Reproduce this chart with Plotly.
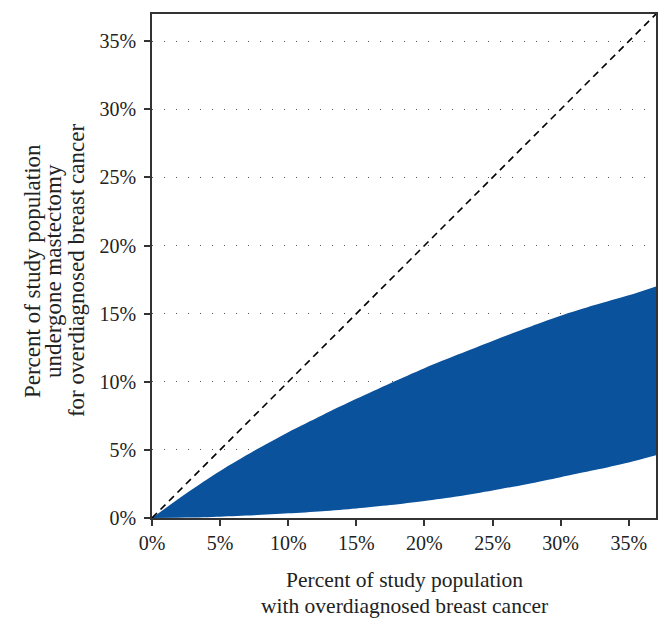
import plotly.graph_objects as go

# Data (percent values)
x_pct = [0, 2.5, 5, 7.5, 10, 12.5, 15, 17.5, 20, 22.5, 25, 27.5, 30, 32.5, 35, 37]
upper_pct = [0, 1.8, 3.45, 4.93, 6.3, 7.55, 8.75, 9.9, 11.0, 12.02, 13.0, 13.95, 14.85, 15.63, 16.35, 17.0]
lower_pct = [0, 0.03, 0.1, 0.2, 0.34, 0.5, 0.7, 0.95, 1.25, 1.6, 2.02, 2.48, 3.0, 3.52, 4.08, 4.6]
diag_x = [0, 37]
diag_y = [0, 37]
tick_vals = [0, 5, 10, 15, 20, 25, 30, 35]
tick_text = ["0%", "5%", "10%", "15%", "20%", "25%", "30%", "35%"]

FILL = "#0b529c"
FONT = "Liberation Serif"
TXT = "#222222"

fig = go.Figure()
fig.add_trace(go.Scatter(x=x_pct, y=lower_pct, mode="lines", line=dict(width=0, color=FILL),
                         line_shape="spline", line_smoothing=0.8, showlegend=False, hoverinfo="skip"))
fig.add_trace(go.Scatter(x=x_pct, y=upper_pct, mode="lines", line=dict(width=0, color=FILL),
                         line_shape="spline", line_smoothing=0.8,
                         fill="tonexty", fillcolor=FILL, showlegend=False))
fig.add_trace(go.Scatter(x=diag_x, y=diag_y, mode="lines",
                         line=dict(color="black", width=1.6, dash="7px,5px"), showlegend=False))

axis_common = dict(
    range=[0, 37], tickvals=tick_vals, ticktext=tick_text,
    showline=True, linecolor="#333333", linewidth=1.5, mirror=True,
    ticks="outside", ticklen=6, tickwidth=1.5, tickcolor="#333333",
    tickfont=dict(family=FONT, size=20, color=TXT),
    zeroline=False, automargin=False,
)
fig.update_xaxes(**axis_common, showgrid=False)
fig.update_yaxes(**axis_common, showgrid=True, gridcolor="#555555", gridwidth=1.2,
                 griddash="1px,11px", ticklabelstandoff=4)

annotations = [
    dict(text="Percent of study population", x=0.5, y=-0.123, xref="paper", yref="paper",
         showarrow=False, font=dict(family=FONT, size=21.5, color=TXT), yanchor="middle"),
    dict(text="with overdiagnosed breast cancer", x=0.5, y=-0.175, xref="paper", yref="paper",
         showarrow=False, font=dict(family=FONT, size=21.5, color=TXT), yanchor="middle"),
]
y_title_lines = ["Percent of study population", "undergone mastectomy",
                 "for overdiagnosed breast cancer"]
y_title_px = [32, 53, 76]
for line, px in zip(y_title_lines, y_title_px):
    annotations.append(dict(text=line, x=0, xshift=px - 152, y=0.49, xref="paper", yref="paper",
                            showarrow=False, textangle=-90, xanchor="center", yanchor="middle",
                            font=dict(family=FONT, size=23, color=TXT)))

# page body has an 8px margin; size the figure so the plot area lands where the reference has it
fig.update_layout(
    width=662, height=623,
    margin=dict(l=144, r=14, t=6, b=113, autoexpand=False),
    plot_bgcolor="white", paper_bgcolor="white",
    annotations=annotations,
)
fig.write_html("out.html")
